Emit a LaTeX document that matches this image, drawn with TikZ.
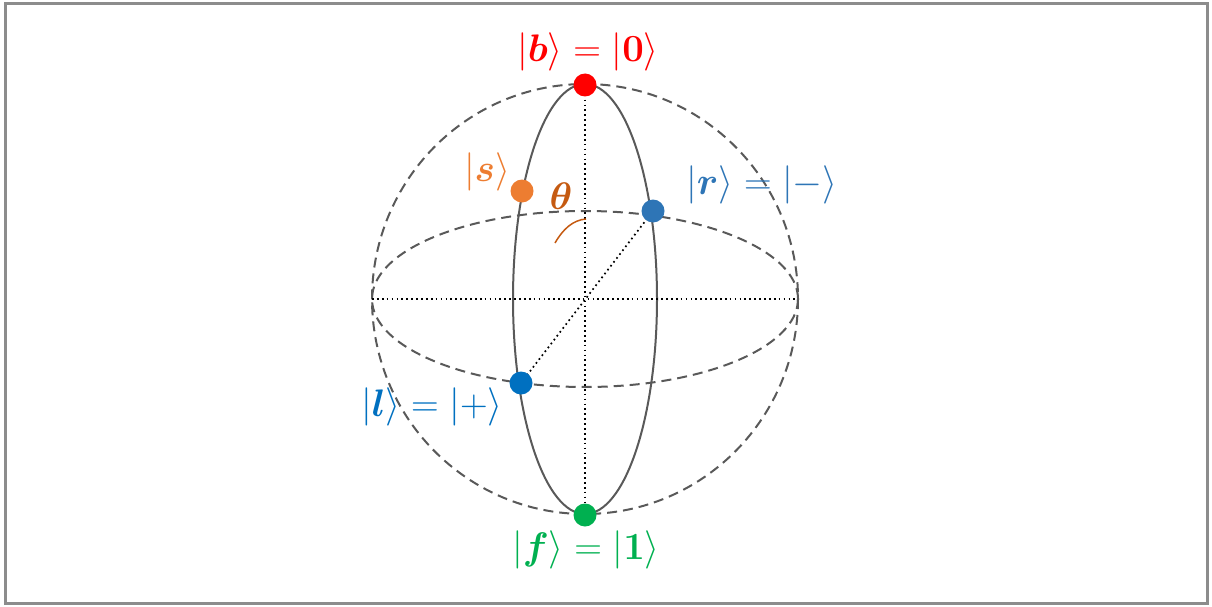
\documentclass[tikz,border=0pt]{standalone}
\usepackage{amsmath,bm,graphicx}
\definecolor{gline}{HTML}{595959}
\definecolor{frame}{HTML}{8C8C8C}
\definecolor{cred}{HTML}{FF0000}
\definecolor{corange}{HTML}{ED7D31}
\definecolor{cbrown}{HTML}{C55A11}
\definecolor{cblueA}{HTML}{2E75B6}
\definecolor{cblueB}{HTML}{0070C0}
\definecolor{cgreen}{HTML}{00B050}
\newcommand{\labtxt}[1]{\scalebox{1.85}{\huge #1}}
\tikzset{
  sph/.style={draw=gline, line width=2pt, dash pattern=on 10pt off 6pt},
  mer/.style={draw=gline, line width=2pt},
  axis/.style={draw=black, line width=1.7pt, dash pattern=on 1.7pt off 3.2pt},
  dot/.style={circle, inner sep=0pt, minimum size=23pt},
  lab/.style={inner sep=0pt}
}
\begin{document}
\begin{tikzpicture}[x=1pt,y=-1pt]
\useasboundingbox (0,0) rectangle (1212,607);
\draw[frame, line width=3.5pt] (5.5,3.5) rectangle (1207.5,603.5);
\coordinate (O) at (585,299);
\coordinate (N) at (585,85);
\coordinate (S) at (585,515);
\coordinate (W) at (372,299);
\coordinate (E) at (798,299);
% sphere and equator
\draw[sph] (O) ellipse [x radius=213, y radius=215];
\draw[sph] (O) ellipse [x radius=213, y radius=88];
% meridian
\draw[mer] (O) ellipse [x radius=72, y radius=215];
% axes
\draw[axis] (N) -- (S);
\draw[axis] (W) -- (E);
\coordinate (pr) at (653,211);
\coordinate (pl) at (521,383);
\draw[axis] (pl) -- (pr);
% theta arc
\coordinate (t1) at (555,243);
\coordinate (t2) at (586,219);
\draw[cbrown, line width=1.5pt] (t1) .. controls (563,229) and (573,220) .. (t2);
\node[lab, text=cbrown] (theta) at (561,196) {\labtxt{$\bm{\theta}$}};
% points
\node[dot, fill=cred] (b) at (N) {};
\node[dot, fill=corange] (s) at (522,191) {};
\node[dot, fill=cblueA] (r) at (pr) {};
\node[dot, fill=cblueB] (l) at (pl) {};
\node[dot, fill=cgreen] (f) at (S) {};
% labels
\node[lab, text=cred] (bl) at (588,52) {\labtxt{$|\bm{b}\rangle = |\bm{0}\rangle$}};
\node[lab, text=corange] (sl) at (487,172) {\labtxt{$|\bm{s}\rangle$}};
\node[lab, text=cblueA] (rl) at (762,185) {\labtxt{$|\bm{r}\rangle = |-\rangle$}};
\node[lab, text=cblueB] (ll) at (432,407) {\labtxt{$|\bm{l}\rangle = |+\rangle$}};
\node[lab, text=cgreen] (fl) at (586,550) {\labtxt{$|\bm{f}\rangle = |\bm{1}\rangle$}};
\end{tikzpicture}
\end{document}
